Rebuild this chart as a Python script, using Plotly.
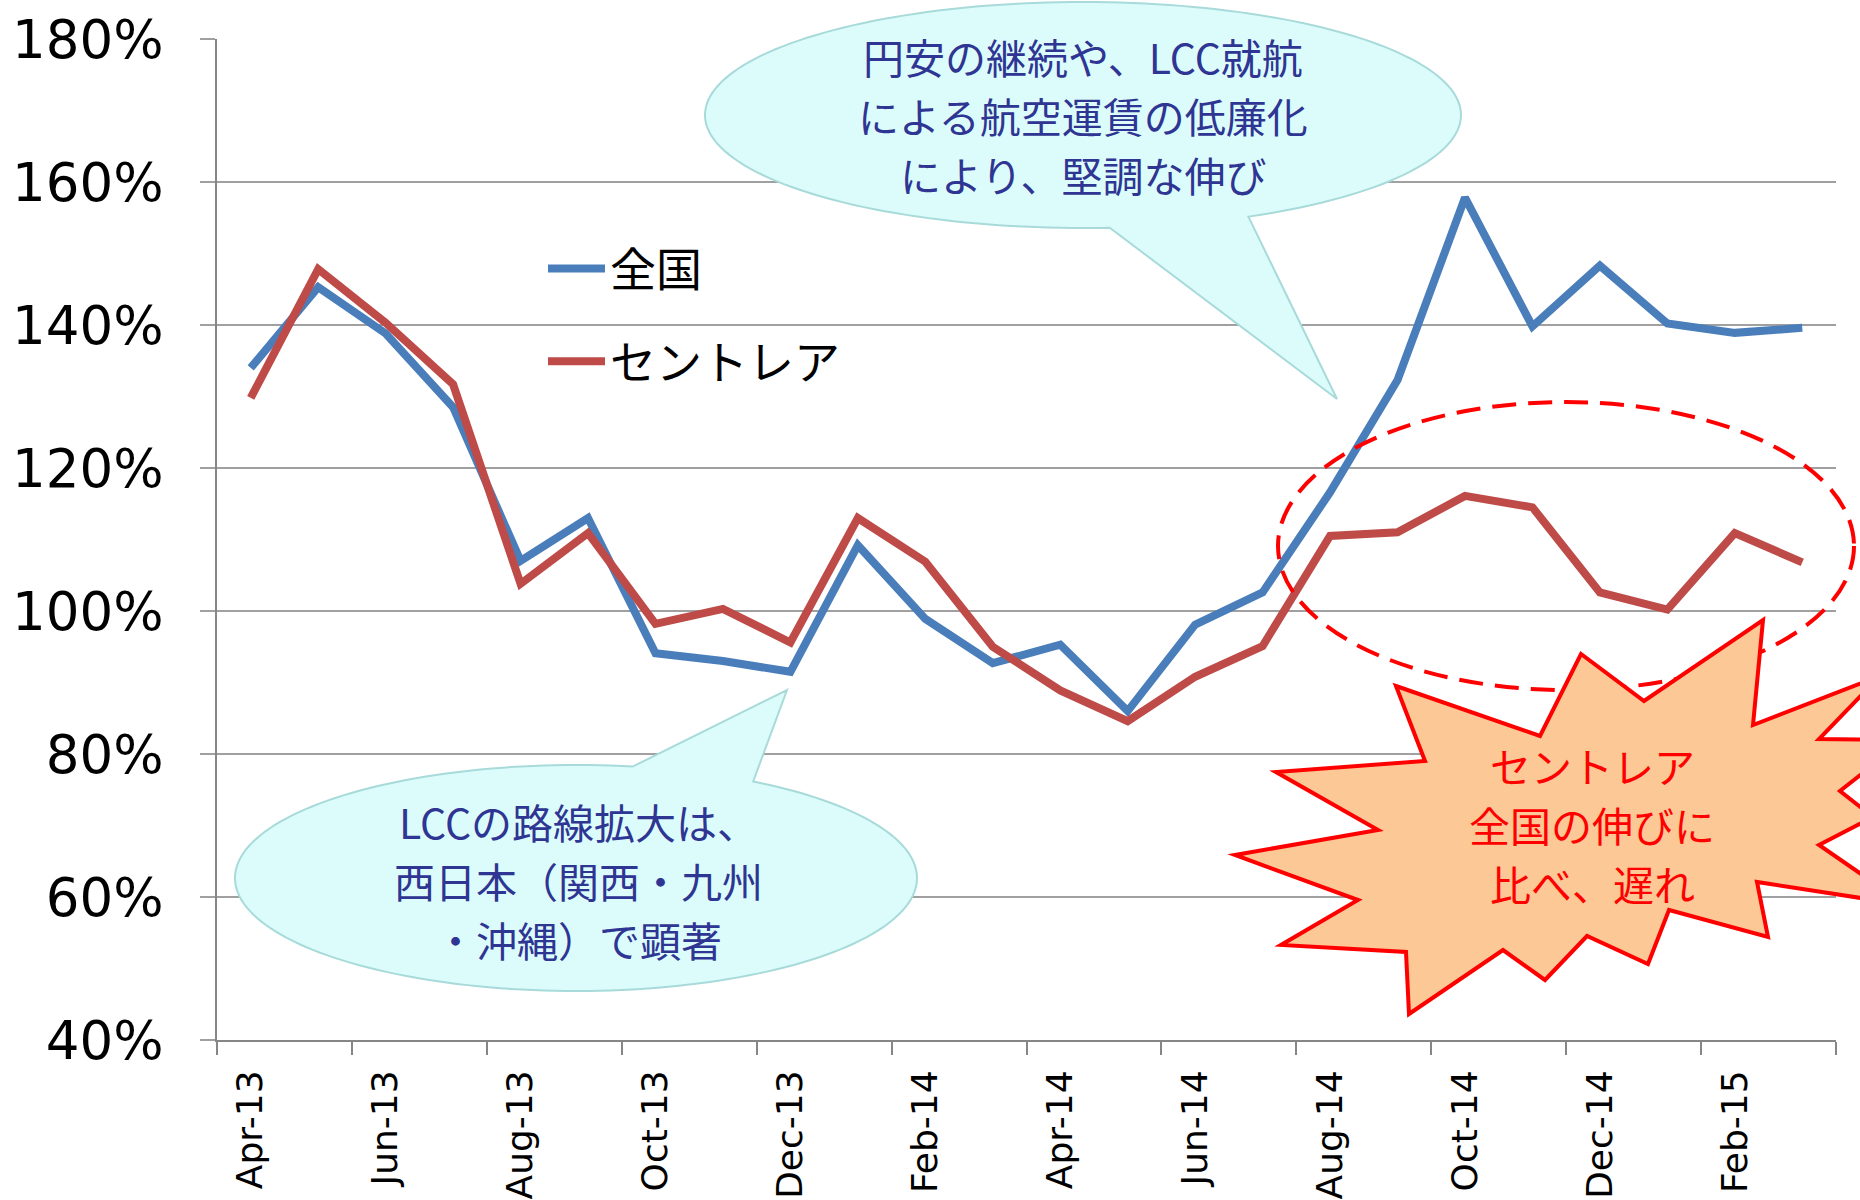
import math
import plotly.graph_objects as go

# ---------------- data ----------------
months = ["Apr-13", "May-13", "Jun-13", "Jul-13", "Aug-13", "Sep-13", "Oct-13", "Nov-13",
          "Dec-13", "Jan-14", "Feb-14", "Mar-14", "Apr-14", "May-14", "Jun-14", "Jul-14",
          "Aug-14", "Sep-14", "Oct-14", "Nov-14", "Dec-14", "Jan-15", "Feb-15", "Mar-15"]
zenkoku = [134.0, 145.3, 138.8, 128.5, 107.0, 113.0, 94.1, 93.0, 91.5, 109.2, 98.9, 92.7,
           95.3, 86.0, 98.1, 102.6, 116.6, 132.3, 157.8, 139.8, 148.3, 140.2, 138.9, 139.6]
centrair = [129.8, 147.8, 140.3, 131.7, 103.8, 110.9, 98.2, 100.3, 95.6, 113.0, 106.9, 95.0,
            88.9, 84.6, 90.8, 95.1, 110.5, 111.0, 116.1, 114.5, 102.6, 100.2, 110.9, 106.8]
series_names = ["全国", "セントレア"]
y_ticks = [40, 60, 80, 100, 120, 140, 160, 180]

note_top = ["円安の継続や、LCC就航", "による航空運賃の低廉化", "により、堅調な伸び"]
note_left = ["LCCの路線拡大は、", "西日本（関西・九州", "・沖縄）で顕著"]
note_star = ["セントレア", "全国の伸びに", "比べ、遅れ"]

# ---------------- layout geometry (pixels) ----------------
W, H = 1860, 1200
L, R, T, B = 217, 24, 39, 160
PW, PH = W - L - R, H - T - B


def px(x):
    return (x - L) / PW


def py(y):
    return (H - B - y) / PH


def path_from_pixels(pts):
    return "M " + " L ".join(f"{px(x):.5f},{py(y):.5f}" for x, y in pts) + " Z"


def bubble(cx, cy, rx, ry, base_a, base_b, tip, n=180):
    ta = math.atan2((base_a[1] - cy) / ry, (base_a[0] - cx) / rx)
    tb = math.atan2((base_b[1] - cy) / ry, (base_b[0] - cx) / rx)
    end = ta
    # go the long way round from tb to ta
    if abs(end - tb) < math.pi:
        end = end - 2 * math.pi if end > tb else end + 2 * math.pi
    pts = []
    for i in range(n + 1):
        t = tb + (end - tb) * i / n
        pts.append((cx + rx * math.cos(t), cy + ry * math.sin(t)))
    pts.append(tip)
    return path_from_pixels(pts)


blue = "#4a7ebb"
red_line = "#be4b48"
x_idx = list(range(len(months)))

fig = go.Figure()
fig.add_trace(go.Scatter(x=x_idx, y=zenkoku, mode="lines", name=series_names[0],
                         line=dict(color=blue, width=8), legendgroup="a"))
fig.add_trace(go.Scatter(x=x_idx, y=centrair, mode="lines", name=series_names[1],
                         line=dict(color=red_line, width=8), legendgroup="b"))

bubble_fill = "#dcfcfc"
bubble_line = "#a8dada"

shapes = [
    # dashed ellipse
    dict(type="circle", xref="paper", yref="paper",
         x0=px(1566 - 288), x1=px(1566 + 288), y0=py(546 + 144), y1=py(546 - 144),
         line=dict(color="#ff0000", width=4, dash="24px,12px"), layer="above"),
    # top speech bubble
    dict(type="path", xref="paper", yref="paper",
         path=bubble(1083, 115, 378, 113, (1110, 229), (1249, 217), (1337, 399)),
         fillcolor=bubble_fill, line=dict(color=bubble_line, width=2), layer="above"),
    # bottom-left speech bubble
    dict(type="path", xref="paper", yref="paper",
         path=bubble(576, 878, 341, 113, (633, 766), (754, 781), (787, 690)),
         fillcolor=bubble_fill, line=dict(color=bubble_line, width=2), layer="above"),
]

star_pts = [(1396, 686), (1540, 736), (1581, 654), (1644, 701), (1763, 620), (1753, 725),
            (1880, 676), (1819, 739), (1905, 740), (1840, 791), (1873, 817), (1819, 845),
            (1906, 905), (1757, 882), (1768, 937), (1669, 910), (1648, 964), (1587, 936),
            (1545, 980), (1503, 950), (1409, 1014), (1406, 952), (1281, 945), (1358, 900),
            (1235, 855), (1378, 830), (1276, 772), (1425, 761)]
shapes.append(dict(type="path", xref="paper", yref="paper", path=path_from_pixels(star_pts),
                   fillcolor="#fcc896", line=dict(color="#ff0000", width=4), layer="above"))

jp = "Noto Sans CJK JP"
annotations = []


def add_lines(lines, cx, cy, color, size=41, gap=59):
    n = len(lines)
    for i, s in enumerate(lines):
        yy = cy + (i - (n - 1) / 2) * gap
        annotations.append(dict(xref="paper", yref="paper", x=px(cx), y=py(yy), text=s,
                                showarrow=False, xanchor="center", yanchor="middle",
                                font=dict(family=jp, size=size, color=color)))


add_lines(note_top, 1083, 115, "#2f3592")
add_lines(note_left, 578, 880, "#2f3592")
add_lines(note_star, 1592, 824, "#ff0000")

fig.update_layout(
    width=W, height=H,
    margin=dict(l=L, r=R, t=T, b=B, autoexpand=False),
    paper_bgcolor="white", plot_bgcolor="white",
    shapes=shapes, annotations=annotations,
    showlegend=True,
    legend=dict(x=px(543), y=py(232), xanchor="left", yanchor="top",
                font=dict(family=jp, size=46, color="black"),
                bgcolor="rgba(0,0,0,0)", itemwidth=57, tracegroupgap=30,
                traceorder="grouped"),
    xaxis=dict(range=[-0.5, len(months) - 0.5], tickmode="array",
               tickvals=x_idx[::2], ticktext=months[::2], tickangle=-90,
               ticks="", showgrid=False, zeroline=False,
               showline=True, linecolor="#868686", linewidth=2,
               tickfont=dict(family="DejaVu Sans", size=36, color="black"),
               ticklabelstandoff=14,
               minor=dict(ticks="outside", tickmode="linear", tick0=-0.5, dtick=2,
                          ticklen=13, tickcolor="#868686", tickwidth=1.5, showgrid=False)),
    yaxis=dict(range=[40, 180], tickmode="array", tickvals=y_ticks,
               ticktext=[f"{v}%" for v in y_ticks],
               showgrid=True, gridcolor="#a0a0a0", gridwidth=1.5, zeroline=False,
               showline=True, linecolor="#868686", linewidth=1.5,
               ticks="outside", ticklen=15, tickcolor="#a0a0a0", tickwidth=1.5,
               tickfont=dict(family="DejaVu Sans", size=53, color="black"),
               ticklabelstandoff=26),
)

fig.write_html("out.html", config={"displayModeBar": False},
               post_script="document.body.style.margin='0';document.body.style.padding='0';")
